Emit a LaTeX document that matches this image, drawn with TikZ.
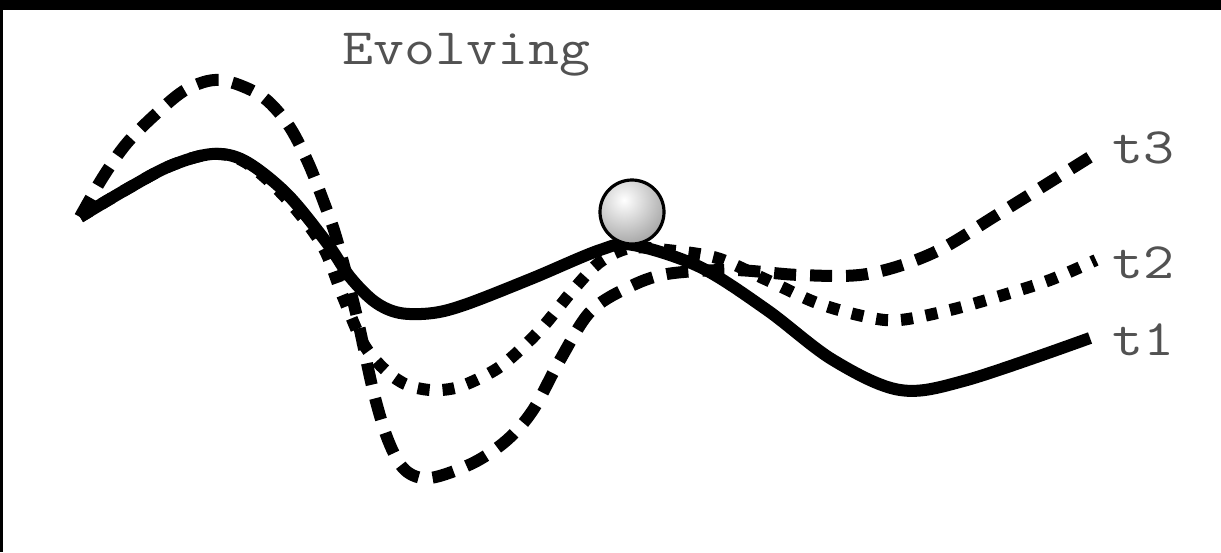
\documentclass[tikz,border=0pt]{standalone}
\usepackage{graphicx}
\tikzset{
  curvebase/.style={line width=6pt, black},
  solidcurve/.style={curvebase},
  dotcurve/.style={curvebase, dash pattern=on 6pt off 6.5pt},
  dashcurve/.style={curvebase, dash pattern=on 11pt off 7pt},
  lbl/.style={inner sep=0pt, text=black!68, font=\ttfamily\fontsize{25.5}{30}\selectfont}
}
\newcommand{\widetext}[1]{\scalebox{1.18}[1]{#1}}
\begin{document}
\begin{tikzpicture}[x=0.5pt,y=-0.5pt]
\useasboundingbox (0,0) rectangle (1221,552);
\fill[white] (0,0) rectangle (1221,552);
\fill[black] (0,0) rectangle (1221,10);
\fill[black] (0,0) rectangle (3,552);

% t1 solid
\draw[solidcurve] plot[smooth, tension=0.55] coordinates {(80,217) (127,189) (170,166) (212,154) (245,161) (287,194) (327,243) (350,277) (375,302) (400,313) (433,313) (467,304) (533,278) (600,250) (633,245) (700,267) (767,310) (833,360) (900,390) (967,380) (1090,338)};
% t2 dotted
\draw[dotcurve] plot[smooth, tension=0.55] coordinates {(80,217) (127,189) (170,166) (212,154) (245,162) (285,197) (322,245) (343,297) (363,343) (383,368) (405,384) (430,390) (455,388) (480,378) (505,363) (540,330) (573,290) (600,262) (630,248) (667,250) (717,258) (767,280) (817,303) (867,317) (900,320) (950,310) (1000,296) (1050,280) (1096,260)};
% t3 dashed
\draw[dashcurve] plot[smooth, tension=0.55] coordinates {(80,217) (103,177) (127,143) (157,113) (187,89) (220,80) (260,95) (287,123) (307,160) (323,200) (337,240) (357,317) (373,390) (388,440) (405,470) (430,478) (473,463) (507,440) (533,410) (560,360) (590,312) (627,288) (667,274) (733,270) (800,275) (867,274) (933,253) (1000,213) (1098,152)};

% ball
\begin{scope}
  \clip (632,212) circle[radius=32];
  \shade[inner color=white, outer color=black!40] (624,200) circle[radius=52];
\end{scope}
\draw[line width=1.6pt] (632,212) circle[radius=32];

\node[lbl, anchor=base west] (title) at (342,64) {\widetext{Evolving}};
\node[lbl, anchor=west] (l3) at (1112,148) {\widetext{t3}};
\node[lbl, anchor=west] (l2) at (1112,263) {\widetext{t2}};
\node[lbl, anchor=west] (l1) at (1112,340) {\widetext{t1}};
\end{tikzpicture}
\end{document}
